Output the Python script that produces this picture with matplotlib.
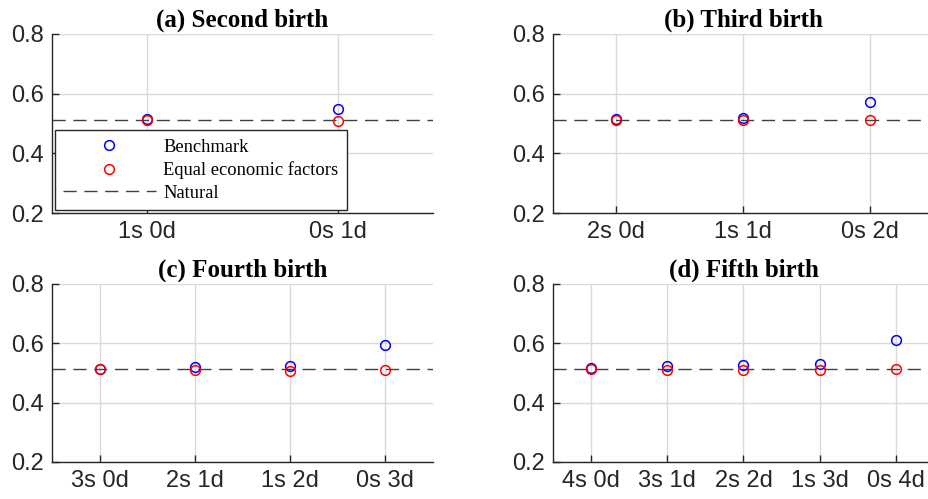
import numpy as np
import matplotlib
matplotlib.use('Agg')
import matplotlib.pyplot as plt

# Share of sons by birth order and sex composition of earlier children
titles = ['(a) Second birth', '(b) Third birth', '(c) Fourth birth', '(d) Fifth birth']
labels_a = ['1s 0d', '0s 1d']
labels_b = ['2s 0d', '1s 1d', '0s 2d']
labels_c = ['3s 0d', '2s 1d', '1s 2d', '0s 3d']
labels_d = ['4s 0d', '3s 1d', '2s 2d', '1s 3d', '0s 4d']

bench_a = [0.514, 0.549]
bench_b = [0.515, 0.519, 0.573]
bench_c = [0.514, 0.521, 0.523, 0.595]
bench_d = [0.517, 0.525, 0.526, 0.531, 0.611]

equal_a = [0.512, 0.510]
equal_b = [0.513, 0.512, 0.513]
equal_c = [0.512, 0.509, 0.508, 0.511]
equal_d = [0.512, 0.510, 0.510, 0.509, 0.512]

natural = 0.512

panels = [
    (labels_a, bench_a, equal_a),
    (labels_b, bench_b, equal_b),
    (labels_c, bench_c, equal_c),
    (labels_d, bench_d, equal_d),
]

W, H = 929, 499
fig = plt.figure(figsize=(W / 100, H / 100), dpi=100)

# axes boxes in pixels: left, top, right, bottom
boxes = [(52, 34, 433, 213), (553, 34, 933, 213),
         (52, 284, 433, 462), (553, 284, 934, 462)]

ink = '#262626'
axes = []
for (l, t, r, b), title, (labels, bench, equal) in zip(boxes, titles, panels):
    ax = fig.add_axes([l / W, 1 - b / H, (r - l) / W, (b - t) / H])
    x = np.arange(1, len(labels) + 1)
    ax.axhline(natural, color='#404040', lw=1.0, dashes=(9.5, 5.5), zorder=2, label='Natural')
    ax.plot(x, bench, 'o', mfc='none', mec='#0000ff', ms=7, mew=1.1, zorder=3, label='Benchmark')
    ax.plot(x, equal, 'o', mfc='none', mec='#ff0000', ms=7, mew=1.1, zorder=4,
            label='Equal economic factors')
    ax.set_xlim(0.5, len(labels) + 0.5)
    ax.set_ylim(0.2, 0.8)
    ax.set_xticks(x)
    ax.set_xticklabels(labels)
    ax.set_yticks([0.2, 0.4, 0.6, 0.8])
    ax.set_yticklabels(['0.2', '0.4', '0.6', '0.8'])
    ax.grid(True, color='#dadada', lw=1.0, zorder=0)
    ax.set_axisbelow(True)
    for s in ['top', 'right']:
        ax.spines[s].set_visible(False)
    for s in ['left', 'bottom']:
        ax.spines[s].set_color(ink)
        ax.spines[s].set_linewidth(1.0)
    ax.tick_params(direction='in', length=5, width=1, colors=ink, labelsize=17, pad=6)
    for lab in ax.get_xticklabels() + ax.get_yticklabels():
        lab.set_fontfamily('Liberation Sans')
    ax.set_title(title, fontfamily='Liberation Serif', fontweight='bold', fontsize=18, pad=5)
    axes.append(ax)

# legend inside the first panel
h, lab = axes[0].get_legend_handles_labels()
order = [1, 2, 0]
leg = axes[0].legend([h[i] for i in order], [lab[i] for i in order],
                     loc='lower left', bbox_to_anchor=(55 / W, 1 - 210 / H),
                     bbox_transform=fig.transFigure, borderaxespad=0,
                     prop={'family': 'Liberation Serif', 'size': 13.3},
                     handlelength=5.0, handletextpad=0.4, labelspacing=0.3,
                     borderpad=0.45, fancybox=False, framealpha=1, edgecolor=ink)
leg.get_frame().set_linewidth(1.0)

fig.savefig('out.png', dpi=100)
